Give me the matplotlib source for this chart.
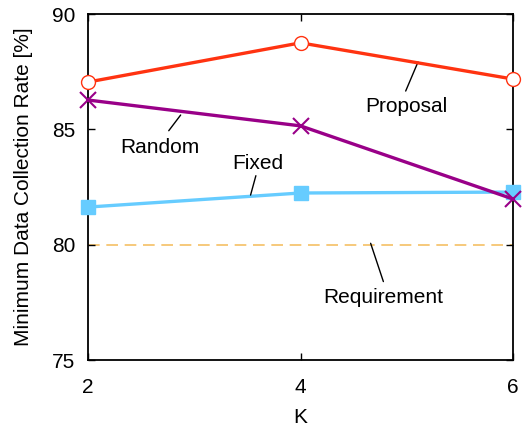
import matplotlib
matplotlib.use("Agg")
import matplotlib.pyplot as plt

K = [2, 4, 6]
proposal = [87.05, 88.75, 87.18]
random_ = [86.27, 85.15, 81.98]
fixed = [81.63, 82.24, 82.28]
requirement = 80.0
yticks = [75, 80, 85, 90]

plt.rcParams['font.family'] = ['Liberation Sans', 'DejaVu Sans']
fig = plt.figure(figsize=(5.31, 4.28), dpi=100)
ax = fig.add_axes([88/531, 1-360/428, (513-88)/531, (360-14)/428])

ax.axhline(requirement, color='#f5c065', lw=1.2, ls=(0, (7, 4)), zorder=1)
ax.plot(K, fixed, color='#66ccff', lw=2.4, marker='s', ms=10, clip_on=False, zorder=3)
ax.plot(K, random_, color='#990088', lw=2.4, marker='x', ms=11, mew=1.5, clip_on=False, zorder=4)
ax.plot(K, proposal, color='#ff3311', lw=2.4, marker='o', ms=10, mfc='white', mec='#ff3311', mew=1.0, clip_on=False, zorder=5)

ax.set_xlim(2, 6)
ax.set_ylim(75, 90)
ax.set_xticks(K)
ax.set_yticks(yticks)
ax.tick_params(direction='in', length=5, width=1, labelsize=15, top=True, right=True)
ax.tick_params(axis='x', pad=13)
ax.tick_params(axis='y', pad=9)
for s in ax.spines.values():
    s.set_linewidth(1.3)
ax.set_xlabel('K', fontsize=15, labelpad=8)
ax.set_ylabel('Minimum Data Collection Rate [%]', fontsize=15, labelpad=14)

def note(text, pos, p0, p1):
    ax.text(pos[0], pos[1], text, fontsize=15, ha='center', va='center')
    ax.annotate('', xy=p0, xytext=p1,
                arrowprops=dict(arrowstyle='-', color='black', lw=1.0, shrinkA=0, shrinkB=0))

note('Proposal', (5.0, 85.97), (5.106, 87.92), (4.99, 86.66))
note('Random', (2.68, 84.23), (2.872, 85.62), (2.76, 84.94))
note('Fixed', (3.60, 83.54), (3.58, 82.99), (3.53, 82.15))
note('Requirement', (4.78, 77.73), (4.66, 80.06), (4.78, 78.40))

fig.savefig('out.png', dpi=100)
